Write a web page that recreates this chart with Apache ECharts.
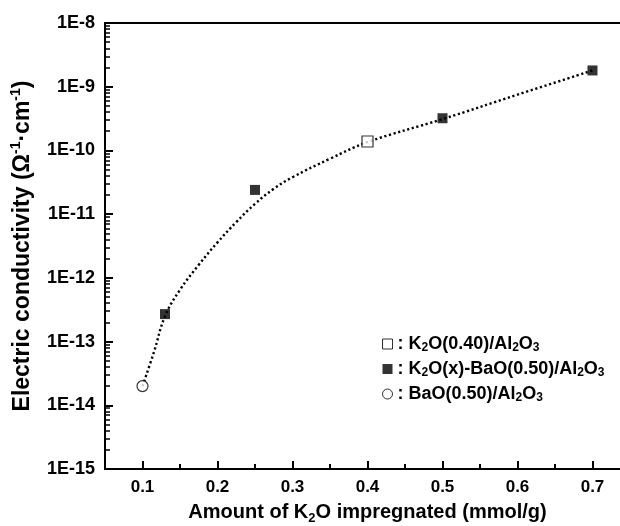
<!DOCTYPE html>
<html>
<head>
<meta charset="utf-8">
<script src="https://cdn.jsdelivr.net/npm/echarts@6/dist/echarts.min.js"></script>
<style>
  html, body { margin: 0; padding: 0; background: #fff; }
  #chart { width: 620px; height: 526px; }
</style>
</head>
<body>
<div id="chart"></div>
<script>
// measured points
const k2oOnly = [[0.40, 1.38e-10]];                       // open square
const k2oBaO = [[0.13, 2.7e-13], [0.25, 2.4e-11], [0.50, 3.2e-10], [0.70, 1.8e-9]]; // filled squares
const baoOnly = [[0.10, 2.0e-14]];                        // open circle
// dotted guide curve
const fitCurve = [
  [0.10, 2.0e-14], [0.115, 6.7e-14], [0.13, 2.5e-13], [0.15, 6.5e-13],
  [0.175, 1.6e-12], [0.20, 3.6e-12], [0.225, 7.5e-12], [0.25, 1.45e-11],
  [0.275, 2.5e-11], [0.30, 3.8e-11], [0.35, 7.4e-11], [0.40, 1.35e-10],
  [0.50, 3.1e-10], [0.60, 7.5e-10], [0.70, 1.8e-9]
];
const xTicks = [0.1, 0.2, 0.3, 0.4, 0.5, 0.6, 0.7];
const xMinorTicks = [0.15, 0.25, 0.35, 0.45, 0.55, 0.65];
const yDecades = [-15, -14, -13, -12, -11, -10, -9, -8];

const FONT = '"Liberation Sans", Arial, sans-serif';

// decade ticks and minor log ticks 2..9 of each decade
const majorY = yDecades.map(e => Math.pow(10, e));
const minorY = [];
yDecades.slice(0, -1).forEach(e => {
  for (let m = 2; m <= 9; m++) minorY.push(m * Math.pow(10, e));
});

const names = {
  'K2O(0.40)/Al2O3': ': K{sub|2}O(0.40)/Al{sub|2}O{sub|3}',
  'K2O(x)-BaO(0.50)/Al2O3': ': K{sub|2}O(x)-BaO(0.50)/Al{sub|2}O{sub|3}',
  'BaO(0.50)/Al2O3': ': BaO(0.50)/Al{sub|2}O{sub|3}'
};

const chart = echarts.init(document.getElementById('chart'));
chart.setOption({
  animation: false,
  backgroundColor: '#fff',
  grid: { left: 105, top: 23, bottom: 57, width: 525, outerBoundsMode: 'none', containLabel: false },
  legend: {
    orient: 'vertical',
    left: 377, top: 329,
    itemGap: 5,
    itemWidth: 10, itemHeight: 10,
    selectedMode: false,
    data: [
      { name: 'K2O(0.40)/Al2O3', icon: 'rect', itemStyle: { color: '#fff', borderColor: '#000', borderWidth: 1 } },
      { name: 'K2O(x)-BaO(0.50)/Al2O3', icon: 'rect', itemStyle: { color: '#000' } },
      { name: 'BaO(0.50)/Al2O3', icon: 'circle', itemStyle: { color: '#fff', borderColor: '#000', borderWidth: 1 } }
    ],
    formatter: n => names[n],
    textStyle: {
      fontFamily: FONT, fontWeight: 'bold', fontSize: 18, color: '#000', lineHeight: 20,
      rich: {
        sub: { fontFamily: FONT, fontWeight: 'bold', fontSize: 12, color: '#000', verticalAlign: 'bottom', lineHeight: 16 }
      }
    }
  },
  xAxis: [{
    type: 'value', min: 0.05, max: 0.75,
    axisLine: { show: true, lineStyle: { color: '#000', width: 2 } },
    axisTick: { show: true, inside: true, length: 8, lineStyle: { color: '#000', width: 2 }, customValues: xTicks },
    splitLine: { show: false },
    axisLabel: {
      customValues: xTicks, margin: 10,
      fontFamily: FONT, fontWeight: 'bold', fontSize: 17, color: '#000',
      formatter: v => v.toFixed(1)
    },
    name: 'Amount of K{sub|2}O impregnated (mmol/g)',
    nameLocation: 'middle', nameGap: 27,
    nameTextStyle: {
      fontFamily: FONT, fontWeight: 'bold', fontSize: 20, color: '#000', lineHeight: 24,
      rich: { sub: { fontFamily: FONT, fontWeight: 'bold', fontSize: 13, color: '#000', verticalAlign: 'bottom', lineHeight: 19 } }
    }
  }, {
    // minor x ticks
    type: 'value', position: 'bottom', min: 0.05, max: 0.75,
    axisLine: { show: false },
    axisTick: { show: true, inside: true, length: 5, lineStyle: { color: '#000', width: 2 }, customValues: xMinorTicks },
    axisLabel: { show: false }, splitLine: { show: false }
  }, {
    // top frame line
    type: 'value', position: 'top', min: 0.05, max: 0.75,
    axisLine: { show: true, lineStyle: { color: '#000', width: 2 } },
    axisTick: { show: false }, axisLabel: { show: false }, splitLine: { show: false }
  }],
  yAxis: [{
    type: 'log', logBase: 10, min: 1e-15, max: 1e-8, position: 'left',
    axisLine: { show: true, lineStyle: { color: '#000', width: 2 } },
    axisTick: { show: true, inside: true, length: 8, lineStyle: { color: '#000', width: 2 }, customValues: majorY },
    splitLine: { show: false },
    axisLabel: {
      margin: 10, customValues: majorY,
      fontFamily: FONT, fontWeight: 'bold', fontSize: 18, color: '#000',
      formatter: v => '1E' + Math.round(Math.log10(v))
    },
    name: 'Electric conductivity (Ω{sup|-1}·cm{sup|-1})',
    nameLocation: 'middle', nameGap: 53, nameRotate: 90,
    nameTextStyle: {
      fontFamily: FONT, fontWeight: 'bold', fontSize: 23, color: '#000', lineHeight: 27,
      rich: { sup: { fontFamily: FONT, fontWeight: 'bold', fontSize: 14, color: '#000', verticalAlign: 'top', lineHeight: 19 } }
    }
  }, {
    // minor log ticks
    type: 'log', logBase: 10, min: 1e-15, max: 1e-8, position: 'left',
    axisLine: { show: false },
    axisTick: { show: true, inside: true, length: 5, customValues: minorY, lineStyle: { color: '#000', width: 1.5 } },
    axisLabel: { show: false }, splitLine: { show: false }
  }],
  series: [
    {
      type: 'line', name: 'fit', data: fitCurve, smooth: 0.4, showSymbol: false, z: 1,
      lineStyle: { color: '#000', width: 2.4, type: [2.2, 2.6] }
    },
    {
      type: 'scatter', name: 'K2O(0.40)/Al2O3', data: k2oOnly, symbol: 'rect', symbolSize: 11, z: 3,
      itemStyle: { color: '#fff', borderColor: '#000', borderWidth: 1.2 }
    },
    {
      type: 'scatter', name: 'K2O(x)-BaO(0.50)/Al2O3', data: k2oBaO, symbol: 'rect', symbolSize: 10, z: 3,
      itemStyle: { color: '#000' }
    },
    {
      type: 'scatter', name: 'BaO(0.50)/Al2O3', data: baoOnly, symbol: 'circle', symbolSize: 11, z: 3,
      itemStyle: { color: '#fff', borderColor: '#000', borderWidth: 1.2 }
    }
  ]
});
</script>
</body>
</html>
